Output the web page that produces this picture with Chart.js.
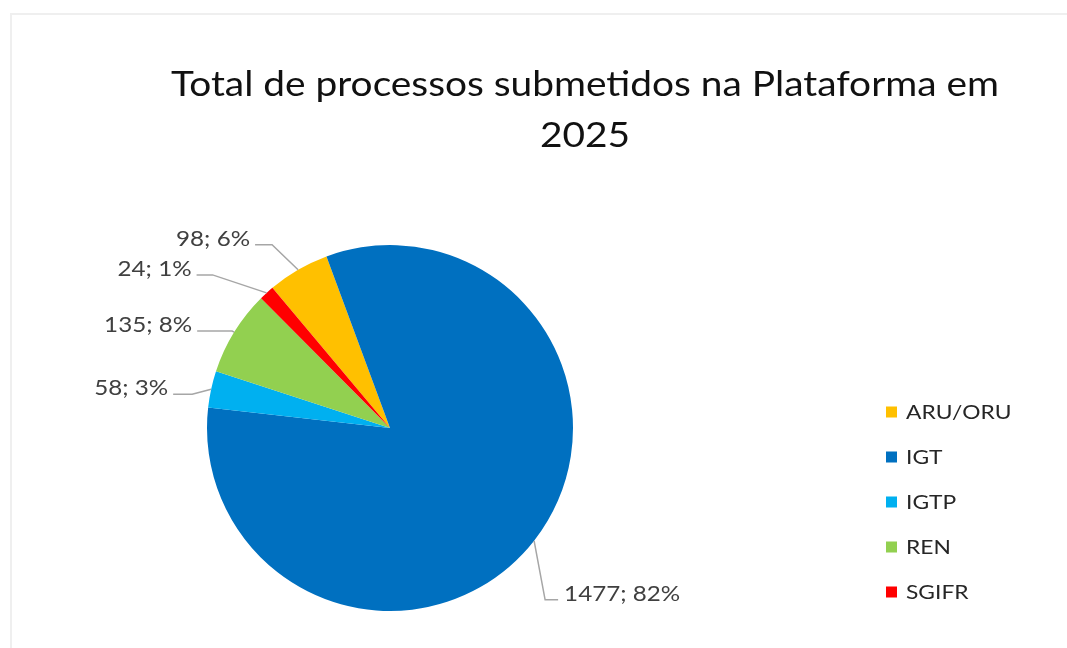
<!DOCTYPE html>
<html><head><meta charset="utf-8">
<script src="https://cdn.jsdelivr.net/npm/chart.js@4.4.1/dist/chart.umd.min.js"></script>
<style>
html,body{margin:0;padding:0;background:#fff;overflow:hidden}
#wrap{position:relative;width:1067px;height:648px}
#card{position:absolute;left:10px;top:13px;right:0;bottom:-10px;border-left:2px solid #efefef;border-top:2px solid #efefef}
canvas{position:absolute;left:0;top:0;width:1067px;height:648px}
</style></head><body>
<div id="wrap"><div id="card"></div><canvas id="c" width="1067" height="648"></canvas></div>
<script>
// ---- data ----
const categories = ['ARU/ORU', 'IGT', 'IGTP', 'REN', 'SGIFR'];
const values = [98, 1477, 58, 135, 24];
const percentLabels = ['6%', '82%', '3%', '8%', '1%'];
const titleLines = ['Total de processos submetidos na Plataforma em', '2025'];

// ---- style / layout ----
const colors = ['#FFC000', '#0070C0', '#00B0F0', '#92D050', '#FF0000'];
const FONT = 'Lato, "Open Sans", sans-serif';
const leaderDx = [-26, 11, -19, -2, -54];   // elbow offset from slice edge
const leaderDy = [-25, 59, 5, -1, -18];
const leaderArm = [-17, 13, -19, -35, -16]; // horizontal arm length (sign = side)

function wideText(ctx, text, x, y, align, sx) {
  ctx.save();
  ctx.translate(x, y);
  ctx.scale(sx, 1);
  ctx.textAlign = align;
  ctx.textBaseline = 'alphabetic';
  ctx.fillText(text, 0, 0);
  ctx.restore();
}

const decor = {
  id: 'decor',
  afterDraw(chart) {
    const ctx = chart.ctx;
    ctx.save();
    // title
    ctx.fillStyle = '#111111';
    ctx.font = '35px ' + FONT;
    wideText(ctx, titleLines[0], 585, 96, 'center', 1.11);
    wideText(ctx, titleLines[1], 585, 147, 'center', 1.11);

    // data labels with leader lines
    const meta = chart.getDatasetMeta(0);
    ctx.font = '22px ' + FONT;
    meta.data.forEach((arc, i) => {
      const p = arc.getProps(['x', 'y', 'startAngle', 'endAngle', 'outerRadius'], true);
      const mid = (p.startAngle + p.endAngle) / 2;
      const ex = p.x + Math.cos(mid) * p.outerRadius;
      const ey = p.y + Math.sin(mid) * p.outerRadius;
      const bx = ex + leaderDx[i], by = ey + leaderDy[i];
      const hx = bx + leaderArm[i];
      ctx.strokeStyle = '#A6A6A6';
      ctx.lineWidth = 1.5;
      ctx.beginPath();
      ctx.moveTo(ex, ey);
      ctx.lineTo(bx, by);
      ctx.lineTo(hx, by);
      ctx.stroke();
      const right = leaderArm[i] < 0;
      ctx.fillStyle = '#404040';
      wideText(ctx, values[i] + '; ' + percentLabels[i], hx + (right ? -5 : 6), by + 1,
               right ? 'right' : 'left', 1.1);
    });

    // legend
    ctx.font = '20px ' + FONT;
    categories.forEach((c, i) => {
      const cy = 412 + 45 * i;
      ctx.fillStyle = colors[i];
      ctx.fillRect(886, cy - 5.5, 11, 11);
      ctx.fillStyle = '#262626';
      wideText(ctx, c, 906, cy + 6.5, 'left', 1.14);
    });
    ctx.restore();
  }
};

new Chart(document.getElementById('c'), {
  type: 'pie',
  data: {
    labels: categories,
    datasets: [{ data: values, backgroundColor: colors, borderWidth: 0 }]
  },
  options: {
    responsive: false,
    animation: false,
    rotation: -40,
    layout: { padding: { left: 207, top: 245, right: 494, bottom: 37 } },
    plugins: { legend: { display: false }, title: { display: false }, tooltip: { enabled: false } }
  },
  plugins: [decor]
});
</script>
</body></html>
